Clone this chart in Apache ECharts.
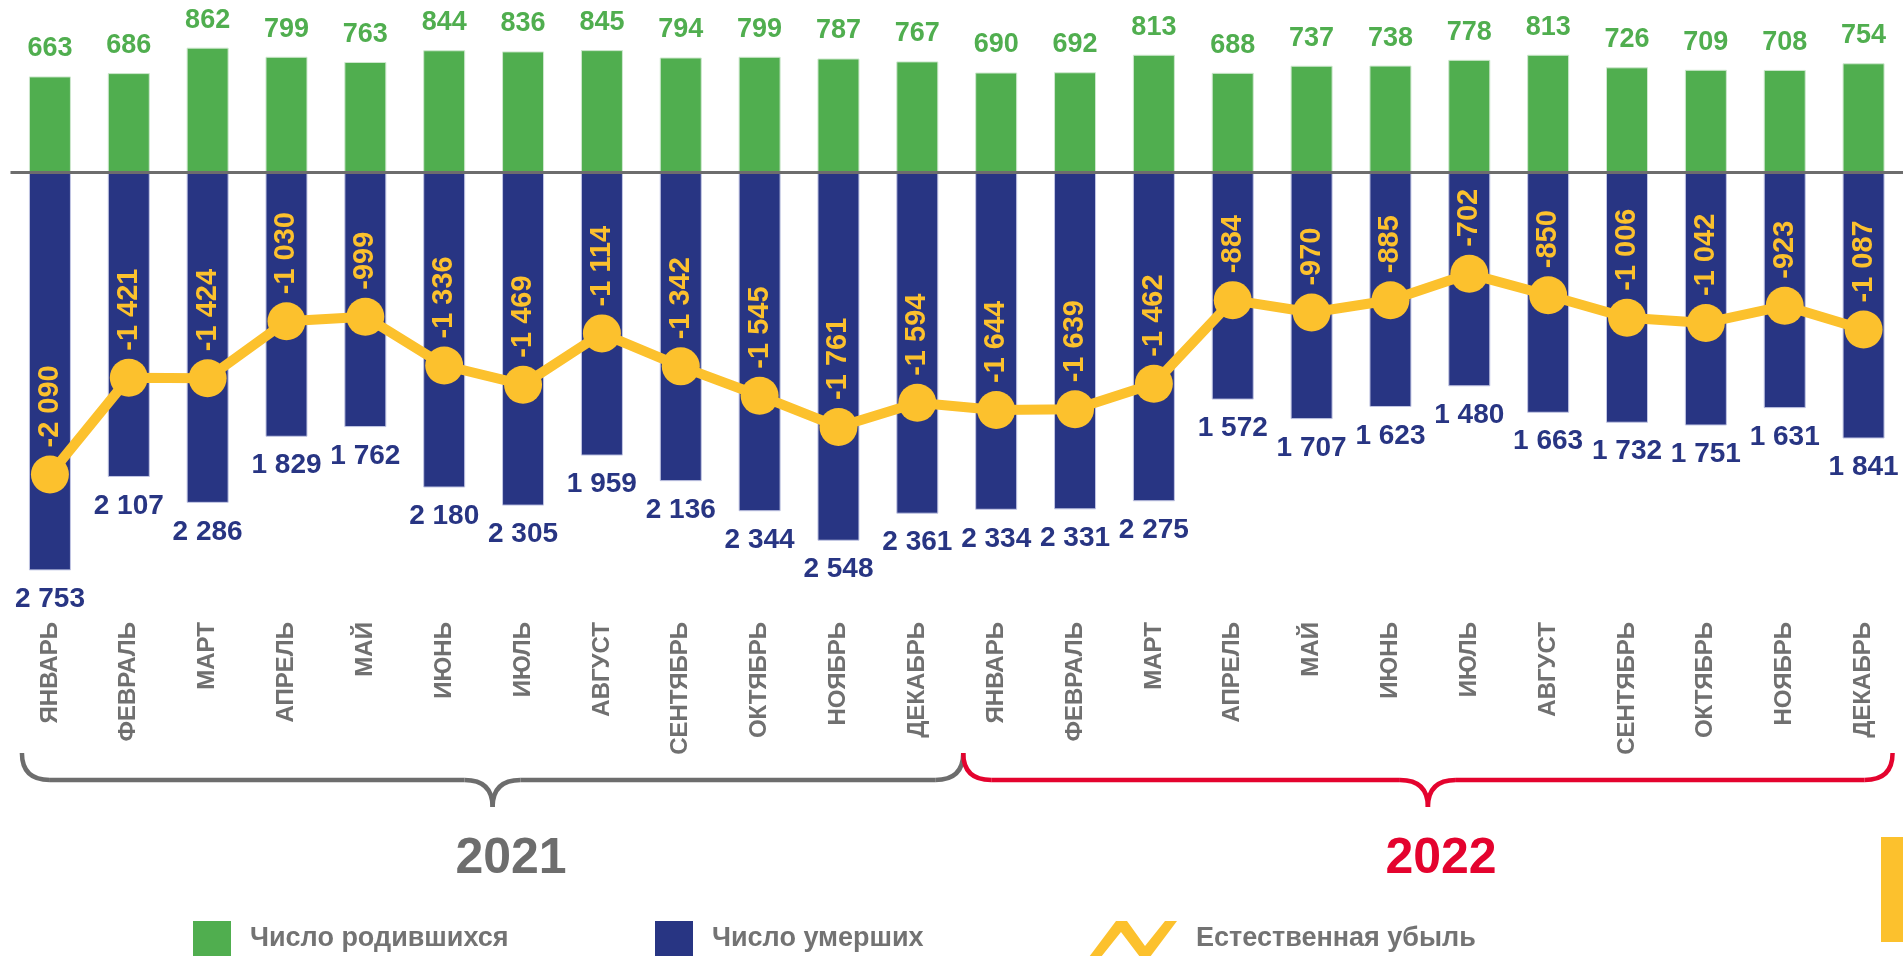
<!DOCTYPE html>
<html>
<head>
<meta charset="utf-8">
<script src="https://cdn.jsdelivr.net/npm/echarts@6/dist/echarts.min.js"></script>
<style>
  html, body { margin: 0; padding: 0; background: #fff; }
  #main { width: 1903px; height: 956px; }
</style>
</head>
<body>
<div id="main"></div>
<script>
// подписи месяцев (2021 и 2022)
var months = ['ЯНВАРЬ', 'ФЕВРАЛЬ', 'МАРТ', 'АПРЕЛЬ', 'МАЙ', 'ИЮНЬ', 'ИЮЛЬ', 'АВГУСТ', 'СЕНТЯБРЬ', 'ОКТЯБРЬ', 'НОЯБРЬ', 'ДЕКАБРЬ',
              'ЯНВАРЬ', 'ФЕВРАЛЬ', 'МАРТ', 'АПРЕЛЬ', 'МАЙ', 'ИЮНЬ', 'ИЮЛЬ', 'АВГУСТ', 'СЕНТЯБРЬ', 'ОКТЯБРЬ', 'НОЯБРЬ', 'ДЕКАБРЬ'];

// число родившихся
var births = [663, 686, 862, 799, 763, 844, 836, 845, 794, 799, 787, 767,
              690, 692, 813, 688, 737, 738, 778, 813, 726, 709, 708, 754];

// число умерших (вниз от нуля)
var deaths = [-2753, -2107, -2286, -1829, -1762, -2180, -2305, -1959, -2136, -2344, -2548, -2361,
              -2334, -2331, -2275, -1572, -1707, -1623, -1480, -1663, -1732, -1751, -1631, -1841];

// естественная убыль
var decrease = [-2090, -1421, -1424, -1030, -999, -1336, -1469, -1114, -1342, -1545, -1761, -1594,
                -1644, -1639, -1462, -884, -970, -885, -702, -850, -1006, -1042, -923, -1087];

var years = ['2021', '2022'];
var seriesNames = ['Число родившихся', 'Число умерших', 'Естественная убыль'];

var FONT = "'Liberation Sans', Arial, sans-serif";
var GREEN = '#50ae4f';
var BLUE = '#283583';
var YELLOW = '#fcc12d';
var GRAY = '#6d6d6d';
var RED = '#e4032e';

// 2 753 / -1 336
function fmt(v) {
    var s = String(Math.abs(v)).replace(/\B(?=(\d{3})+(?!\d))/g, ' ');
    return (v < 0 ? '-' : '') + s;
}

var chart = echarts.init(document.getElementById('main'));

var legendText = {fontFamily: FONT, fontSize: 27, fontWeight: 'bold', color: '#737373', padding: [0, 0, 0, 14]};

var option = {
    animation: false,
    grid: {left: 10.5, top: 27.7, width: 1896, height: 578.4, containLabel: false},
    legend: [
        {left: 193, top: 921, padding: 0, itemWidth: 38, itemHeight: 36,
         itemStyle: {borderWidth: 0},
         data: [{name: seriesNames[0], icon: 'rect'}], textStyle: legendText},
        {left: 655, top: 921, padding: 0, itemWidth: 38, itemHeight: 36,
         itemStyle: {borderWidth: 0},
         data: [{name: seriesNames[1], icon: 'rect'}], textStyle: legendText},
        {left: 1089, top: 921, padding: 0, itemWidth: 88, itemHeight: 36,
         itemStyle: {borderWidth: 0},
         data: [{name: seriesNames[2], icon: 'path://M0,36 L27,0 L38,0 L56,25 L76,0 L88,0 L61,36 L51,36 L32,11 L12,36 Z'}],
         textStyle: legendText}
    ],
    xAxis: {
        type: 'category',
        data: months,
        axisLine: {show: false, onZero: false},
        axisTick: {show: false},
        axisLabel: {
            interval: 0,
            rotate: 90,
            margin: 16,
            fontFamily: FONT,
            fontSize: 24,
            fontWeight: 'bold',
            color: '#707070'
        }
    },
    yAxis: {
        type: 'value',
        min: -3000,
        max: 1000,
        show: false,
        splitLine: {show: false}
    },
    series: [
        {
            name: seriesNames[0],
            type: 'bar',
            data: births,
            barWidth: 42,
            barGap: '-100%',
            itemStyle: {color: GREEN, borderColor: '#cfe8cf', borderWidth: 1},
            label: {
                show: true,
                position: 'top',
                distance: 14,
                fontFamily: FONT,
                fontSize: 27,
                fontWeight: 'bold',
                color: GREEN
            }
        },
        {
            name: seriesNames[1],
            type: 'bar',
            data: deaths,
            barWidth: 42,
            barGap: '-100%',
            itemStyle: {color: BLUE, borderColor: '#c3c7e4', borderWidth: 1},
            label: {
                show: true,
                position: 'bottom',
                distance: 15,
                fontFamily: FONT,
                fontSize: 28,
                fontWeight: 'bold',
                color: BLUE,
                formatter: function (p) { return fmt(Math.abs(p.value)); }
            },
            markLine: {
                silent: true,
                symbol: 'none',
                label: {show: false},
                lineStyle: {color: GRAY, width: 3, type: 'solid'},
                data: [{yAxis: 0}]
            }
        },
        {
            name: seriesNames[2],
            type: 'line',
            data: decrease,
            symbol: 'circle',
            symbolSize: 38,
            lineStyle: {color: YELLOW, width: 10},
            itemStyle: {color: YELLOW},
            label: {
                show: true,
                position: 'top',
                distance: 8,
                rotate: 90,
                align: 'left',
                verticalAlign: 'middle',
                fontFamily: FONT,
                fontSize: 29,
                fontWeight: 'bold',
                color: YELLOW,
                formatter: function (p) { return fmt(p.value); }
            },
            z: 5
        }
    ]
};

chart.setOption(option);

// фигурные скобки под годами
function px(i) {
    return chart.convertToPixel({xAxisIndex: 0}, i);
}

function braceParts(x0, x1, color) {
    var mid = (x0 + x1) / 2, yT = 753, yH = 780, yB = 807, r = 28;
    var st = {fill: null, stroke: color, lineWidth: 4.5};
    return [
        {type: 'bezierCurve', shape: {x1: x0, y1: yT, x2: x0 + r, y2: yH, cpx1: x0, cpy1: yH}, style: st, silent: true},
        {type: 'line', shape: {x1: x0 + r, y1: yH, x2: mid - r, y2: yH}, style: st, silent: true},
        {type: 'bezierCurve', shape: {x1: mid - r, y1: yH, x2: mid, y2: yB, cpx1: mid, cpy1: yH}, style: st, silent: true},
        {type: 'bezierCurve', shape: {x1: mid, y1: yB, x2: mid + r, y2: yH, cpx1: mid, cpy1: yH}, style: st, silent: true},
        {type: 'line', shape: {x1: mid + r, y1: yH, x2: x1 - r, y2: yH}, style: st, silent: true},
        {type: 'bezierCurve', shape: {x1: x1 - r, y1: yH, x2: x1, y2: yT, cpx1: x1, cpy1: yH}, style: st, silent: true}
    ];
}

var split = (px(11) + px(12)) / 2 + 6.5;
var braces = [
    {x0: px(0) - 28, x1: split, color: GRAY, textX: 511},
    {x0: split, x1: px(23) + 29, color: RED, textX: 1441}
];

var graphics = [];
braces.forEach(function (b, i) {
    graphics = graphics.concat(braceParts(b.x0, b.x1, b.color));
    graphics.push({
        type: 'text',
        x: b.textX,
        y: 859,
        style: {
            text: years[i],
            fill: b.color,
            font: 'bold 50px ' + FONT,
            align: 'center',
            verticalAlign: 'middle'
        },
        silent: true
    });
});
// жёлтая плашка у правого края
graphics.push({
    type: 'rect',
    shape: {x: 1881, y: 837, width: 22, height: 105},
    style: {fill: YELLOW},
    silent: true
});

chart.setOption({graphic: graphics});
</script>
</body>
</html>
